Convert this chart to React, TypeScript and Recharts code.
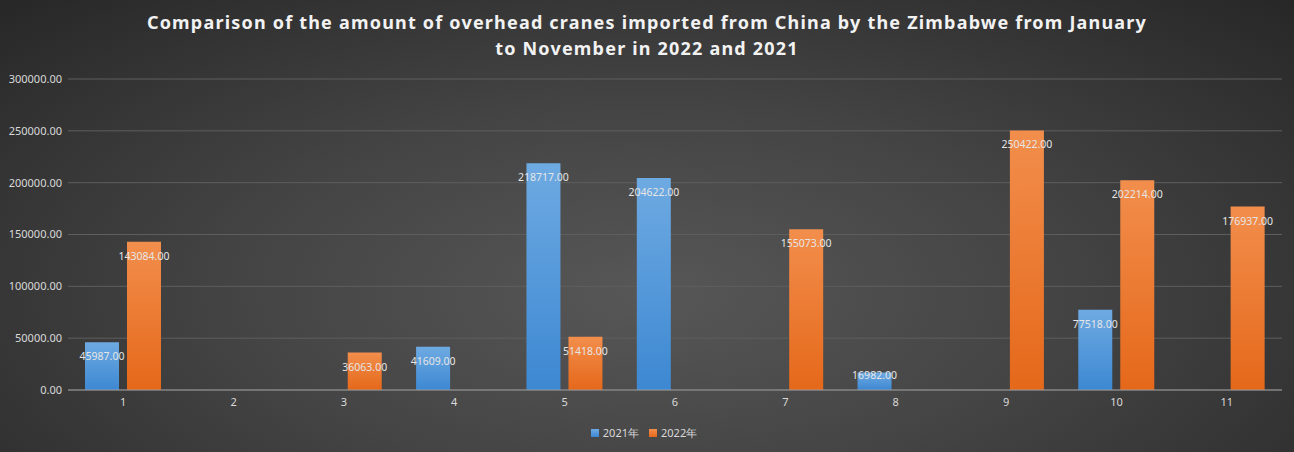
import { BarChart, Bar, XAxis, YAxis, CartesianGrid, Legend, LabelList } from 'recharts'

const months = ['1', '2', '3', '4', '5', '6', '7', '8', '9', '10', '11']
const values2021 = [45987, 0, 0, 41609, 218717, 204622, 0, 16982, 0, 77518, 0]
const values2022 = [143084, 0, 36063, 0, 51418, 0, 155073, 0, 250422, 202214, 176937]
const yTicks = [0, 50000, 100000, 150000, 200000, 250000, 300000]

const data = months.map((m, i) => ({ name: m, y2021: values2021[i], y2022: values2022[i] }))

const FONT = '"Noto Sans", sans-serif'

function BarLabel(props: any) {
  const { x, y, width, height, value } = props
  if (!value) return null
  const base = y + height
  const cy = Math.min(y + 14, base - 15)
  return (
    <text
      x={x + width / 2}
      y={cy}
      textAnchor="middle"
      dominantBaseline="central"
      fill="#e6e6e6"
      fontSize={10.5}
      fontFamily={FONT}
    >
      {value.toFixed(2)}
    </text>
  )
}

export default function App() {
  return (
    <div
      style={{
        position: 'absolute',
        left: 0,
        top: 0,
        width: 1294,
        height: 452,
        background: 'radial-gradient(ellipse at 50% 65%, #575757 0%, #444 45%, #272727 100%)',
        fontFamily: FONT,
      }}
    >
      <div
        style={{
          position: 'absolute',
          top: 9,
          left: 0,
          width: 1294,
          textAlign: 'center',
          color: '#f2f2f2',
          fontWeight: 700,
          fontSize: 18,
          letterSpacing: 1.2,
          lineHeight: '26px',
        }}
      >
        Comparison of the amount of overhead cranes imported from China by the Zimbabwe from January
        <br />
        to November in 2022 and 2021
      </div>
      <BarChart
        width={1294}
        height={452}
        data={data}
        margin={{ top: 79, right: 12, left: 0, bottom: 10 }}
        barGap={8}
        barSize={34}
      >
        <defs>
          <linearGradient id="blueGrad" x1="0" y1="0" x2="0" y2="1">
            <stop offset="0%" stopColor="#6eaae2" />
            <stop offset="100%" stopColor="#3d88d2" />
          </linearGradient>
          <linearGradient id="orangeGrad" x1="0" y1="0" x2="0" y2="1">
            <stop offset="0%" stopColor="#f28e4c" />
            <stop offset="100%" stopColor="#e5681a" />
          </linearGradient>
        </defs>
        <CartesianGrid vertical={false} stroke="#5e5e5e" strokeWidth={1} />
        <XAxis
          dataKey="name"
          tick={{ fontSize: 11, fill: '#d9d9d9', fontFamily: FONT }}
          tickLine={false}
          axisLine={{ stroke: '#9a9a9a' }}
          height={30}
        />
        <YAxis
          domain={[0, 300000]}
          ticks={yTicks}
          width={68}
          tick={{ fontSize: 11, fill: '#d9d9d9', fontFamily: FONT }}
          tickFormatter={(v: number) => v.toFixed(2)}
          tickLine={false}
          axisLine={false}
          tickMargin={0}
        />
        <Legend
          iconType="square"
          iconSize={8}
          formatter={(v: string) => <span style={{ color: '#d9d9d9', fontSize: 11 }}>{v}</span>}
          wrapperStyle={{ fontFamily: FONT, paddingLeft: 8 }}
        />
        <Bar dataKey="y2021" name="2021年" fill="url(#blueGrad)" isAnimationActive={false}>
          <LabelList dataKey="y2021" content={BarLabel} />
        </Bar>
        <Bar dataKey="y2022" name="2022年" fill="url(#orangeGrad)" isAnimationActive={false}>
          <LabelList dataKey="y2022" content={BarLabel} />
        </Bar>
      </BarChart>
    </div>
  )
}
